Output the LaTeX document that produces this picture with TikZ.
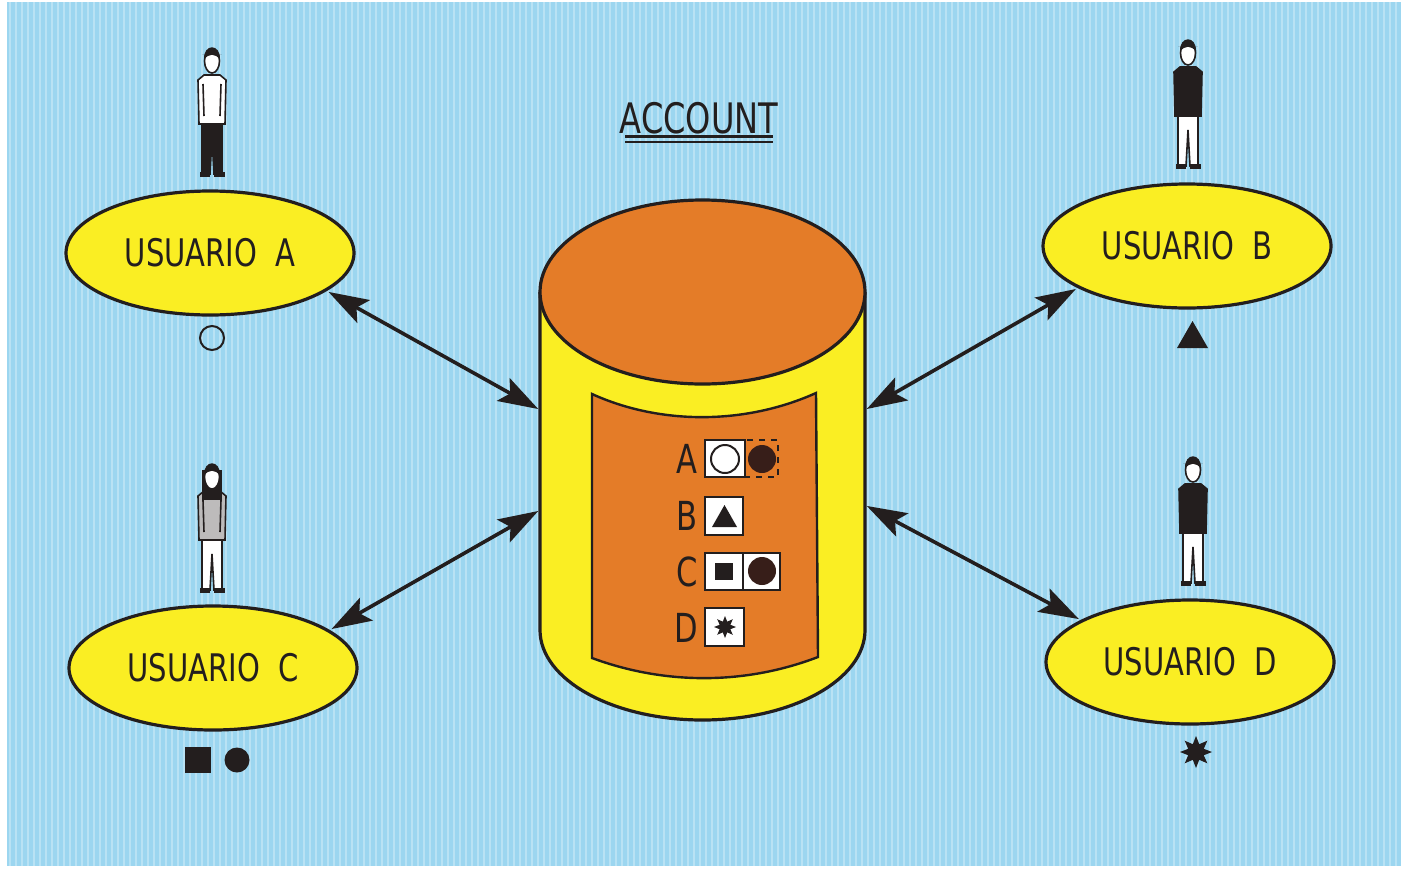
\documentclass[tikz,border=0pt]{standalone}
\usepackage{fontspec}
\newfontfamily\rotulo{DejaVu Sans Condensed}[FakeStretch=0.85]
\usetikzlibrary{shapes.geometric,arrows.meta}
\definecolor{fondo}{RGB}{156,214,240}
\definecolor{amarillo}{RGB}{250,238,35}
\definecolor{naranja}{RGB}{228,124,40}
\definecolor{tinta}{RGB}{35,30,30}
\definecolor{marron}{RGB}{55,30,25}
\tikzset{
  usuario/.style={ellipse, draw=tinta, line width=1.6pt, fill=amarillo,
    minimum width=144pt, minimum height=62pt, inner sep=0pt,
    font=\rotulo\fontsize{19}{19}\selectfont, text=tinta},
  flecha/.style={{Stealth[length=20pt,width=13pt,inset=4pt]}-{Stealth[length=20pt,width=13pt,inset=4pt]},
    line width=1.8pt, draw=tinta, shorten <=1pt, shorten >=1pt},
  letra/.style={font=\rotulo\fontsize{20}{20}\selectfont, text=tinta, inner sep=0pt},
  casilla/.style={draw=tinta, fill=white, line width=1pt},
  estrella/.style={star, star points=8, star point ratio=1.9, fill=tinta,
    inner sep=0pt, minimum size=#1},
  % figura de pie: chaqueta, pantalon, largo del pelo
  pics/persona/.style n args={3}{code={
    % piernas
    \filldraw[fill=#2, draw=tinta, line width=0.8pt] (-10,-56) -- (10,-56) -- (10,-2)
      -- (2,-2) -- (0,-38) -- (-2,-2) -- (-10,-2) -- cycle;
    \fill[tinta] (-12,-4) rectangle (-2,1);
    \fill[tinta] (2,-4) rectangle (13,1);
    % chaqueta
    \filldraw[fill=#1, draw=tinta, line width=0.8pt] (-8,-101) -- (8,-101) -- (14,-96)
      -- (13,-52) -- (-13,-52) -- (-14,-96) -- cycle;
    \draw[tinta, line width=0.8pt] (-9,-92) -- (-8,-60) (9,-92) -- (8,-60);
    % pelo largo detras
    \fill[tinta] (-10,-122) rectangle (10,#3);
    % cabeza
    \filldraw[fill=white, draw=tinta, line width=0.8pt] (0,-115) ellipse [x radius=7.5, y radius=12];
    \fill[tinta] (-8,-116) .. controls (-9,-133) and (9,-133) .. (8,-116)
      .. controls (4,-123) and (-4,-123) .. cycle;
  }}
}
\begin{document}
\begin{tikzpicture}[x=0.5pt, y=-0.5pt]
\useasboundingbox (0,0) rectangle (1407,873);
\fill[white] (0,0) rectangle (1407,873);
\fill[fondo] (7,2) rectangle (1401,866);
\foreach \x in {10,16,...,1400}
  \draw[white, opacity=0.3, line width=0.9pt] (\x,2) -- (\x,866);

% cilindro
\filldraw[fill=amarillo, draw=tinta, line width=1.6pt] (540,292) -- (540,630)
  arc[start angle=180, end angle=0, x radius=162.5, y radius=90] -- (865,292);
\filldraw[fill=naranja, draw=tinta, line width=1.6pt] (702.5,292) ellipse [x radius=162.5, y radius=92];
\filldraw[fill=naranja, draw=tinta, line width=1.2pt] (592,394) .. controls (660,425) and (745,425) .. (816,393)
  -- (818,657) .. controls (745,685) and (665,685) .. (592,658) -- cycle;
\coordinate (cilA) at (540,410);
\coordinate (cilB) at (865,410);
\coordinate (cilC) at (540,510);
\coordinate (cilD) at (865,505);

% tabla de permisos
\node (lA) [letra, anchor=east] at (698,459) {A};
\node (lB) [letra, anchor=east] at (698,516) {B};
\node (lC) [letra, anchor=east] at (698,572) {C};
\node (lD) [letra, anchor=east] at (698,628) {D};
\filldraw[casilla] (705,440) rectangle (745,477);
\draw[tinta, line width=1pt] (725,459) circle [radius=14];
\draw[tinta, line width=0.8pt, dashed] (745,440) rectangle (778,477);
\fill[marron] (762,459) circle [radius=14];
\filldraw[casilla] (705,497) rectangle (743,535);
\fill[tinta] (712,527) -- (737,527) -- (724.5,505) -- cycle;
\filldraw[casilla] (705,553) rectangle (743,590);
\filldraw[casilla] (743,553) rectangle (780,590);
\fill[tinta] (715,563) rectangle (733,580);
\fill[marron] (762,571) circle [radius=14];
\filldraw[casilla] (705,608) rectangle (744,646);
\node (eD) [estrella=11pt] at (725,627) {};

% titulo
\node (cuenta) [letra, font=\rotulo\fontsize{21}{21}\selectfont] at (699,118) {ACCOUNT};
\draw[tinta, line width=1.5pt] (625,136) -- (773,136);
\draw[tinta, line width=0.8pt] (625,142) -- (773,142);

% usuarios
\node (usrA) [usuario] at (210,253) {USUARIO\hspace{9pt}A};
\node (usrB) [usuario] at (1187,246) {USUARIO\hspace{9pt}B};
\node (usrC) [usuario] at (213,668) {USUARIO\hspace{9pt}C};
\node (usrD) [usuario] at (1190,662) {USUARIO\hspace{9pt}D};

\draw[flecha] (usrA.-18) -- (cilA);
\draw[flecha] (usrB.-159) -- (cilB);
\draw[flecha] (usrC.18) -- (cilC);
\draw[flecha] (usrD.159) -- (cilD);

% claves de cada usuario
\draw[tinta, line width=1pt] (212,338) circle [radius=12];
\fill[tinta] (1177,348) -- (1208,348) -- (1192.5,321) -- cycle;
\fill[tinta] (185,747) rectangle (211,773);
\fill[tinta] (237,760) circle [radius=12.5];
\node (eUD) [estrella=16pt] at (1196,752) {};

% personas
\pic at (212,176) {persona={white}{tinta}{-122}};
\pic at (1188,168) {persona={tinta}{white}{-122}};
\pic at (212,592) {persona={white!70!tinta}{white}{-92}};
\pic at (1193,585) {persona={tinta}{white}{-122}};
\end{tikzpicture}
\end{document}
